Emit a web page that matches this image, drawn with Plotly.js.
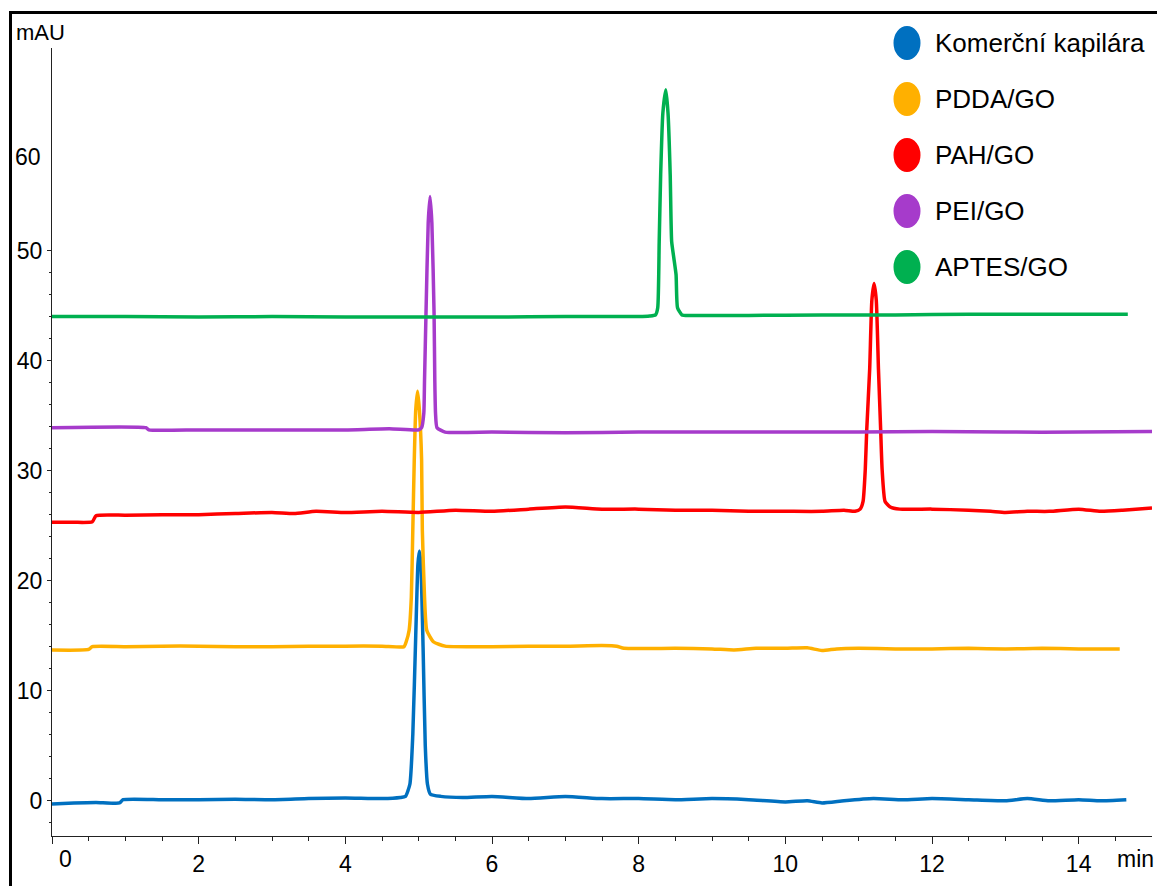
<!DOCTYPE html>
<html>
<head>
<meta charset="utf-8">
<script src="https://cdn.plot.ly/plotly-3.0.1.min.js"></script>
<style>
  html, body { margin: 0; padding: 0; background: #fff; overflow: hidden; }
  #wrap { position: relative; width: 1157px; height: 886px; }
  #chart { position: absolute; left: 0; top: 0; width: 1157px; height: 886px; }
  #frame { position: absolute; left: 9px; top: 11px; width: 1200px; height: 900px;
           border-left: 3px solid #000; border-top: 3px solid #000; pointer-events: none; }
</style>
</head>
<body>
<div id="wrap">
  <div id="chart"></div>
  <div id="frame"></div>
</div>
<script>
// ---- Data (time in min, absorbance in mAU) ----
const seriesNames = ["Komerční kapilára", "PDDA/GO", "PAH/GO", "PEI/GO", "APTES/GO"];

const komercniT = [0, 0.3, 0.6, 0.92, 0.97, 1.5, 2, 2.5, 3, 3.5, 4, 4.5, 4.75, 4.82, 4.88, 4.92, 4.96, 4.99, 5.01, 5.03, 5.06, 5.09, 5.12, 5.16, 5.3, 5.6, 6, 6.5, 7, 7.5, 8, 8.5, 9, 9.5, 10, 10.3, 10.5, 10.8, 11.2, 11.6, 12, 12.5, 13, 13.3, 13.6, 14, 14.3, 14.65];
const komercniY = [-0.3, -0.2, -0.15, -0.2, 0.1, 0.1, 0.1, 0.15, 0.1, 0.2, 0.25, 0.2, 0.3, 0.4, 1.5, 6, 15, 21.5, 22.7, 21.5, 14, 5, 1.5, 0.6, 0.4, 0.3, 0.4, 0.2, 0.4, 0.2, 0.2, 0.1, 0.2, 0.1, -0.1, 0.0, -0.2, 0.0, 0.2, 0.1, 0.2, 0.1, 0.0, 0.2, 0.0, 0.1, 0.0, 0.1];

const pddaT = [0, 0.5, 0.55, 1, 1.5, 2, 2.5, 3, 3.5, 4, 4.5, 4.8, 4.83, 4.87, 4.9, 4.92, 4.94, 4.96, 4.985, 5.01, 5.04, 5.05, 5.08, 5.11, 5.2, 5.36, 6, 6.5, 7, 7.5, 7.7, 7.8, 8.5, 9, 9.3, 9.6, 10, 10.3, 10.5, 10.7, 11, 11.5, 12, 12.5, 13, 13.5, 14, 14.56];
const pddaY = [13.7, 13.75, 14.0, 14.0, 14.05, 14.05, 14.0, 14.0, 14.05, 14.05, 14.05, 14.0, 14.45, 15.5, 18.5, 24.6, 31, 35.5, 37.2, 35.5, 31, 24.6, 18.5, 15.5, 14.45, 14.05, 14.0, 14.05, 14.05, 14.1, 14.05, 13.85, 13.85, 13.8, 13.7, 13.85, 13.85, 13.9, 13.65, 13.8, 13.85, 13.8, 13.8, 13.85, 13.8, 13.85, 13.8, 13.8];

const pahT = [0, 0.3, 0.55, 0.6, 1, 1.5, 2, 2.5, 3, 3.3, 3.6, 4, 4.5, 5, 5.5, 6, 6.5, 7, 7.5, 8, 8.5, 9, 9.5, 10, 10.5, 10.8, 10.95, 11.02, 11.06, 11.09, 11.11, 11.15, 11.18, 11.21, 11.24, 11.27, 11.3, 11.32, 11.36, 11.43, 11.56, 12, 12.5, 12.8, 13, 13.3, 13.6, 14, 14.3, 14.6, 15];
const pahY = [25.3, 25.3, 25.35, 25.9, 25.95, 26.0, 26.0, 26.1, 26.2, 26.1, 26.3, 26.2, 26.3, 26.2, 26.4, 26.3, 26.5, 26.7, 26.5, 26.5, 26.4, 26.4, 26.3, 26.3, 26.3, 26.4, 26.3, 26.5, 27.2, 30.1, 33.7, 39.2, 45.5, 47.0, 45.5, 39.2, 33.7, 30.1, 27.2, 26.7, 26.5, 26.5, 26.4, 26.3, 26.2, 26.3, 26.3, 26.5, 26.3, 26.4, 26.6];

const peiT = [0, 1.28, 1.32, 2, 3, 4, 4.6, 5.0, 5.04, 5.07, 5.08, 5.1, 5.13, 5.155, 5.18, 5.21, 5.22, 5.23, 5.25, 5.36, 6, 7, 8, 9, 10, 11, 12, 13, 14, 15];
const peiY = [33.9, 33.9, 33.7, 33.7, 33.7, 33.7, 33.8, 33.7, 33.9, 35.2, 38.2, 44.3, 52.5, 54.9, 52.5, 44.3, 38.2, 35.2, 33.9, 33.5, 33.5, 33.45, 33.5, 33.5, 33.5, 33.5, 33.55, 33.5, 33.5, 33.55];

const aptesT = [0, 1, 2, 3, 4, 5, 6, 7, 8, 8.15, 8.23, 8.26, 8.28, 8.3, 8.33, 8.37, 8.4, 8.43, 8.45, 8.48, 8.51, 8.53, 8.59, 8.7, 9.5, 10.5, 11.5, 12.5, 13.5, 14.67];
const aptesY = [44.0, 44.0, 43.95, 44.0, 43.95, 43.95, 43.95, 44.0, 44.0, 44.05, 44.15, 44.8, 50.8, 56.9, 62.5, 64.6, 62.5, 56.9, 50.8, 49.3, 47.8, 44.8, 44.15, 44.1, 44.1, 44.15, 44.15, 44.2, 44.2, 44.2];

const xTickVals = [0, 2, 4, 6, 8, 10, 12, 14];
const xTickText = ["", "2", "4", "6", "8", "10", "12", "14"];
const yTickVals = [0, 10, 20, 30, 40, 50];
const yTickText = ["0", "10", "20", "30", "40", "50"];

// ---- Styles ----
const seriesColors = ["#0070C0", "#FFB000", "#FF0000", "#A63BCB", "#00B050"];
const FONT = "Arial, 'Liberation Sans', sans-serif";

const xs = [komercniT, pddaT, pahT, peiT, aptesT];
const ys = [komercniY, pddaY, pahY, peiY, aptesY];

const traces = seriesNames.map((name, i) => ({
  type: "scatter", mode: "lines", name: name,
  x: xs[i], y: ys[i],
  line: { color: seriesColors[i], width: 3.5, shape: "spline", smoothing: 0.5 },
  hoverinfo: "skip", showlegend: false
}));

// minor tick positions
const xMinor = [];
for (let k = 1; k <= 29; k++) { if (k % 4 !== 0) xMinor.push(k * 0.5); }
const yMinor = [];
for (let v = -2; v <= 48; v += 2) { if (v % 10 !== 0) yMinor.push(v); }

const shapes = [];
const annotations = [];
const legendY0 = 43, legendStep = 56;
seriesNames.forEach((name, i) => {
  const py = legendY0 + legendStep * i;
  const yp = (836 - py) / 788;
  const xp = (907 - 52) / 1100;
  shapes.push({
    type: "circle", xref: "paper", yref: "paper",
    xsizemode: "pixel", ysizemode: "pixel",
    xanchor: xp, yanchor: yp,
    x0: -13.5, x1: 13.5, y0: -17, y1: 17,
    fillcolor: seriesColors[i], line: { width: 0 }
  });
  annotations.push({
    xref: "paper", yref: "paper", x: (933 - 52) / 1100, y: yp,
    xanchor: "left", yanchor: "middle", showarrow: false,
    text: name, font: { family: FONT, size: 26, color: "#000" }
  });
});

annotations.push({
  xref: "paper", yref: "paper", x: (14 - 52) / 1100, y: (836 - 33) / 788,
  xanchor: "left", yanchor: "middle", showarrow: false,
  text: "mAU", font: { family: FONT, size: 22, color: "#000" }
});
annotations.push({
  xref: "paper", yref: "y", x: (43 - 52) / 1100, y: 58.5,
  xanchor: "right", yanchor: "middle", showarrow: false,
  text: "60", font: { family: FONT, size: 23, color: "#000" }
});
annotations.push({
  xref: "x", yref: "paper", x: 0, xshift: 13, y: (836 - 859) / 788,
  xanchor: "center", yanchor: "middle", showarrow: false,
  text: "0", font: { family: FONT, size: 23, color: "#000" }
});
annotations.push({
  xref: "paper", yref: "paper", x: (1115 - 52) / 1100, y: (836 - 859) / 788,
  xanchor: "left", yanchor: "middle", showarrow: false,
  text: "min", font: { family: FONT, size: 23, color: "#000" }
});

const layout = {
  width: 1157, height: 886,
  margin: { l: 52, r: 5, t: 48, b: 50, pad: 0 },
  paper_bgcolor: "#fff", plot_bgcolor: "#fff",
  showlegend: false,
  font: { family: FONT, size: 23, color: "#000" },
  xaxis: {
    range: [0, 15], showgrid: false, zeroline: false,
    showline: true, linecolor: "#222", linewidth: 1,
    ticks: "outside", ticklen: 7, tickwidth: 1, tickcolor: "#222",
    tickmode: "array", tickvals: xTickVals, ticktext: xTickText,
    tickfont: { family: FONT, size: 23, color: "#000" },
    minor: { tickmode: "array", tickvals: xMinor, ticks: "outside", ticklen: 4, tickwidth: 1, tickcolor: "#222", showgrid: false }
  },
  yaxis: {
    range: [-3.2, 68.4], showgrid: false, zeroline: false,
    showline: true, linecolor: "#222", linewidth: 1,
    ticks: "outside", ticklen: 4, tickwidth: 1, tickcolor: "#222",
    tickmode: "array", tickvals: yTickVals, ticktext: yTickText,
    tickfont: { family: FONT, size: 23, color: "#000" },
    minor: { tickmode: "array", tickvals: yMinor, ticks: "outside", ticklen: 2.5, tickwidth: 1, tickcolor: "#222", showgrid: false }
  },
  shapes: shapes,
  annotations: annotations
};

Plotly.newPlot("chart", traces, layout, { displayModeBar: false, staticPlot: true });
</script>
</body>
</html>
